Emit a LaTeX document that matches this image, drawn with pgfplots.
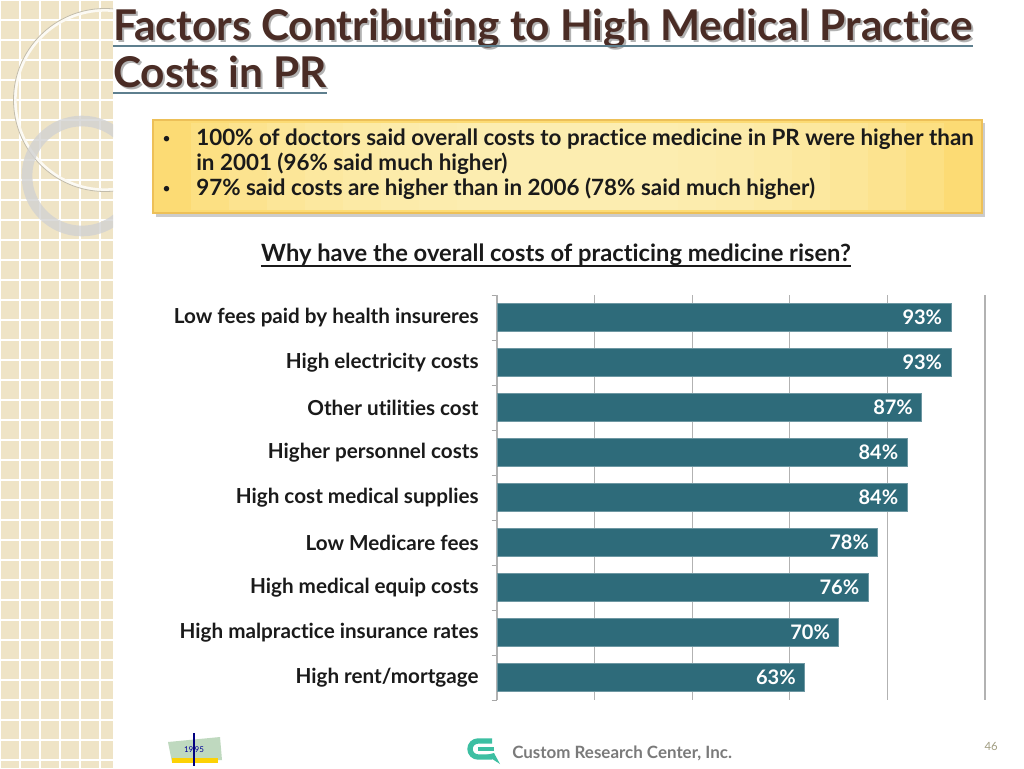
\documentclass[border=0pt]{standalone}
\usepackage{pgfplots}
\pgfplotsset{compat=1.18}
\usepackage{fontspec}
\setmainfont{Lato}[Ligatures=NoCommon]
\definecolor{barcol}{HTML}{2E6B7A}
\definecolor{titlecol}{HTML}{4A2C25}
\definecolor{ulcol}{HTML}{5E7F8E}
\definecolor{panel}{HTML}{EFE4C6}
\definecolor{boxborder}{HTML}{EDC058}
\definecolor{boxedge}{HTML}{FCDB74}
\definecolor{boxmid}{HTML}{FFF2BC}
\definecolor{labcol}{HTML}{1A1A1A}
\definecolor{footgray}{HTML}{7A7A7A}
\definecolor{pagenum}{HTML}{A09C80}
\definecolor{logogreen}{HTML}{3DBFA2}
\begin{document}
\begin{tikzpicture}[x=0.75pt,y=-0.75pt]
% page
\fill[white] (0,0) rectangle (1024,768);
% left decorative panel
\begin{scope}
\clip (0,0) rectangle (113,768);
\fill[panel] (0,0) rectangle (113,768);
\foreach \i in {0,20,...,120} \draw[white, line width=0.8pt] (\i,0) -- (\i,768);
\foreach \j in {0,20,...,760} \draw[white, line width=0.8pt] (0,\j) -- (113,\j);
\draw[white!80!panel, line width=2.5pt] (105,100) circle (90);
\draw[panel!60!gray, line width=0.6pt] (105,100) circle (91.5);
\draw[gray!35, line width=8pt, opacity=0.8] (82,176) circle (55);
\end{scope}
% title
\node[anchor=base west, text=gray!60, font=\bfseries\fontsize{31.8}{36}\selectfont, inner sep=0pt] at (115,42) {Factors Contributing to High Medical Practice};
\node[anchor=base west, text=titlecol, font=\bfseries\fontsize{31.8}{36}\selectfont, inner sep=0pt] (t1) at (113,40) {Factors Contributing to High Medical Practice};
\node[anchor=base west, text=gray!60, font=\bfseries\fontsize{31.8}{36}\selectfont, inner sep=0pt] at (115,89) {Costs in PR};
\node[anchor=base west, text=titlecol, font=\bfseries\fontsize{31.8}{36}\selectfont, inner sep=0pt] (t2) at (113,87) {Costs in PR};
\draw[ulcol, line width=1.8pt] (113,46) -- (t1.base east |- 0,46);
\draw[ulcol, line width=1.8pt] (113,93) -- (t2.base east |- 0,93);
% yellow box
\fill[gray!40] (156,123) rectangle (985,217);
\fill[boxedge] (153,120) rectangle (982,213);
\foreach \k in {1,...,8} \fill[boxmid, opacity=0.22] (153+\k*38,123) rectangle (982-\k*38,210);
\draw[boxborder, line width=0.8pt] (153,120) rectangle (982,213);
\begin{scope}[every node/.style={anchor=base west, inner sep=0pt, text=labcol, font=\bfseries\fontsize{16.8}{19}\selectfont}]
\node[font=\fontsize{11}{12}\selectfont] at (162,143) {\textbullet};
\node at (196,145) {100\% of doctors said overall costs to practice medicine in PR were higher than};
\node at (196,170) {in 2001 (96\% said much higher)};
\node[font=\fontsize{11}{12}\selectfont] at (162,193) {\textbullet};
\node at (196,195) {97\% said costs are higher than in 2006 (78\% said much higher)};
\end{scope}
% chart title
\node[anchor=base, inner sep=0pt, text=labcol, font=\bfseries\fontsize{17.8}{21}\selectfont] (ct) at (556,261) {Why have the overall costs of practicing medicine risen?};
\draw[labcol, line width=1pt] (ct.base west |- 0,266) -- (ct.base east |- 0,266);
% chart
\begin{axis}[
  at={(372.75pt,-525pt)}, anchor=south west,
  scale only axis, width=366pt, height=303.75pt,
  xbar, bar width=21pt,
  xmin=0, xmax=100, ymin=-0.5, ymax=8.5,
  y dir=reverse,
  ytick={0,...,8},
  yticklabels={Low fees paid by health insureres, High electricity costs, Other utilities cost, Higher personnel costs, High cost medical supplies, Low Medicare fees, High medical equip costs, High malpractice insurance rates, High rent/mortgage},
  major y tick style={draw=none},
  minor ytick={-0.5,0.5,...,8.5},
  minor y tick style={gray!70, line width=0.6pt},
  minor tick length=4pt,
  tick align=outside, ytick pos=left,
  xtick={0,20,...,100}, xticklabels={}, major x tick style={draw=none},
  xmajorgrids, grid style={gray!60, line width=0.8pt},
  separate axis lines,
  x axis line style={draw=none},
  y axis line style={gray!60, line width=0.8pt},
  yticklabel style={font=\bfseries\fontsize{15.5}{18}\selectfont, text=labcol, xshift=-6pt},
  /pgf/number format/assume math mode=true,
  point meta=x,
  nodes near coords={\pgfmathprintnumber{\pgfplotspointmeta}\%},
  nodes near coords style={anchor=east, text=white, font=\bfseries\fontsize{15}{18}\selectfont, xshift=-3pt},
]
\addplot[fill=barcol, draw=barcol!70!white, line width=0.4pt] coordinates {(93,0) (93,1) (87,2) (84,3) (84,4) (78,5) (76,6) (70,7) (63,8)};
\end{axis}
% footer
\node[anchor=base west, inner sep=0pt, text=footgray, font=\bfseries\fontsize{12.7}{15}\selectfont] at (512,758) {Custom Research Center, Inc.};
\node[anchor=base east, inner sep=0pt, text=pagenum, font=\fontsize{8.5}{10}\selectfont] at (998,750) {46};
% right logo (stylized)
\draw[logogreen, line width=4pt, rounded corners=6pt] (492,741) -- (470,741) -- (470,757) -- (492,757);
\draw[logogreen, line width=3pt] (478,749) -- (494,749);
\fill[logogreen] (486,755) -- (500,764) -- (494,753) -- cycle;
% left logo (stylized)
\fill[green!25!gray!40] (168,742) -- (220,737) -- (222,760) -- (172,762) -- cycle;
\fill[yellow!70!orange] (172,758) rectangle (218,763);
\node[inner sep=0pt, text=blue!60!black, font=\fontsize{6}{7}\selectfont] at (194,750) {19\,95};
\draw[blue!50!black, line width=1pt] (194,733) -- (194,766);
\end{tikzpicture}
\end{document}
